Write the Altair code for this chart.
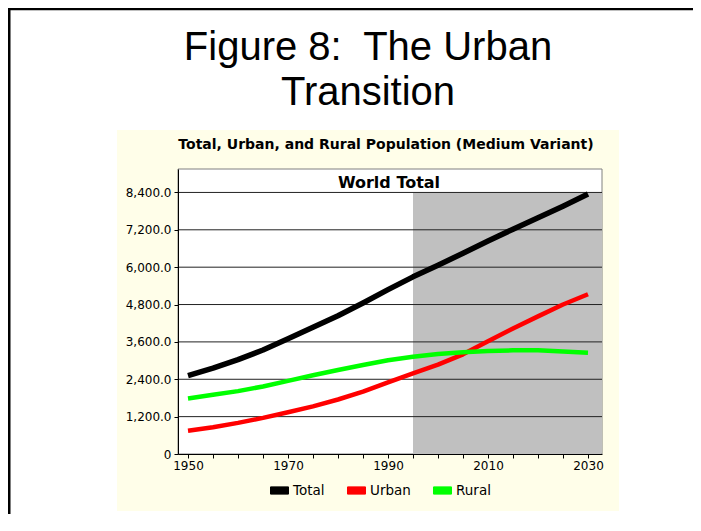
import altair as alt
import pandas as pd

# ---- data ----
years = [1950, 1955, 1960, 1965, 1970, 1975, 1980, 1985, 1990,
         1995, 2000, 2005, 2010, 2015, 2020, 2025, 2030]
total = [2520, 2760, 3030, 3340, 3700, 4070, 4440, 4850, 5280,
         5690, 6060, 6450, 6840, 7220, 7590, 7960, 8350]
urban = [750, 860, 1000, 1160, 1340, 1530, 1750, 2000, 2300,
         2590, 2870, 3200, 3620, 4030, 4420, 4800, 5130]
rural = [1780, 1900, 2020, 2170, 2350, 2530, 2700, 2860, 3010,
         3120, 3210, 3270, 3310, 3330, 3330, 3290, 3250]

series_names = ["Total", "Urban", "Rural"]
series_colors = ["#000000", "#FF0000", "#00FF00"]

ytick_values = [0, 1200, 2400, 3600, 4800, 6000, 7200, 8400]
grid_values = [1200, 2400, 3600, 4800, 6000, 7200, 8400]
xtick_values = list(range(1950, 2031, 5))
projection_start = [1995]
projection_end = [2032.6]

title_line1 = "Figure 8:\u00a0 The Urban"
title_line2 = "Transition"
subtitle = "Total, Urban, and Rural Population (Medium Variant)"
panel_title = "World Total"

# ---- tables ----
rows = []
for name, vals in zip(series_names, [total, urban, rural]):
    for y, v in zip(years, vals):
        rows.append({"year": y, "value": v, "series": name})
df = pd.DataFrame(rows)
band = pd.DataFrame({"start": projection_start, "end": projection_end,
                     "low": [0], "high": [8400]})
grid_df = pd.DataFrame({"v": grid_values})
one = pd.DataFrame({"d": [0]})

W, H = 424, 285
FONT = "DejaVu Sans"

xscale = alt.Scale(domain=[1948, 2032.8], nice=False, zero=False)
yscale = alt.Scale(domain=[0, 9153], nice=False, zero=True)
cscale = alt.Scale(domain=series_names, range=series_colors)

xaxis = alt.Axis(values=xtick_values, format="d",
                 labelExpr="(datum.value - 1950) % 20 == 0 ? datum.label : ''",
                 labelFont=FONT, labelFontSize=12, labelColor="black",
                 tickColor="black", tickSize=4, labelPadding=2,
                 domainColor="black", grid=False, title=None, zindex=1,
                 labelOverlap=False, labelFlush=False)
yaxis = alt.Axis(values=ytick_values,
                 labelExpr="datum.value == 0 ? '0' : format(datum.value, ',.1f')",
                 labelFont=FONT, labelFontSize=12, labelColor="black",
                 tickColor="black", tickSize=4, labelPadding=3,
                 domainColor="black", grid=False, title=None, zindex=1,
                 labelOverlap=False)

X = lambda f: alt.X(f, type="quantitative", scale=xscale, axis=xaxis)
Y = lambda f: alt.Y(f, type="quantitative", scale=yscale, axis=yaxis)

# decorations
border_v = alt.Chart(one).mark_rule(color="black", strokeWidth=3).encode(
    x=alt.value(-169), x2=alt.value(-169), y=alt.value(-165), y2=alt.value(400))
border_h = alt.Chart(one).mark_rule(color="black", strokeWidth=2.5).encode(
    x=alt.value(-171), x2=alt.value(530), y=alt.value(-160), y2=alt.value(-160))
cream = alt.Chart(one).mark_rect(color="#FFFEE9").encode(
    x=alt.value(-61), x2=alt.value(441), y=alt.value(-39), y2=alt.value(342))
frame = alt.Chart(one).mark_rect(fill="white", stroke="#808080", strokeWidth=1).encode(
    x=alt.value(0), x2=alt.value(W), y=alt.value(0), y2=alt.value(H))

gray = alt.Chart(band).mark_rect(color="#C0C0C0").encode(
    x=X("start"), x2="end", y=Y("low"), y2="high")

grid = alt.Chart(grid_df).mark_rule(color="#222222", strokeWidth=1).encode(
    y=Y("v"), x=alt.value(0), x2=alt.value(W))

thin_lines = alt.Chart(df).transform_filter(
    "datum.series != 'Total'"
).mark_line(strokeWidth=4.5, strokeCap="butt", strokeJoin="round").encode(
    x=X("year"), y=Y("value"),
    stroke=alt.Stroke("series:N", scale=cscale, legend=None),
    order=alt.Order("year:Q"),
)
total_line = alt.Chart(df).transform_filter(
    "datum.series == 'Total'"
).mark_line(strokeWidth=5.5, strokeCap="butt", strokeJoin="round").encode(
    x=X("year"), y=Y("value"),
    stroke=alt.Stroke("series:N", scale=cscale, legend=None),
)

legend_layer = alt.Chart(df).mark_point(filled=True, opacity=0, size=324,
                                        shape="M-1,-0.4L1,-0.4L1,0.4L-1,0.4Z").encode(
    x=X("year"), y=Y("value"),
    fill=alt.Fill("series:N", scale=cscale,
                  legend=alt.Legend(orient="none", legendX=92, legendY=312,
                                    direction="horizontal", title=None,
                                    symbolType="M-1,-0.4L1,-0.4L1,0.4L-1,0.4Z", symbolSize=324,
                                    symbolStrokeColor="black", symbolStrokeWidth=1,
                                    symbolOpacity=1, labelFont=FONT, labelFontSize=13.5,
                                    labelColor="black", labelOffset=4, columnPadding=20,
                                    padding=0)),
)

t1 = alt.Chart(one).mark_text(text=title_line1, font="Liberation Sans", fontSize=40,
                              align="center", baseline="alphabetic", color="black").encode(
    x=alt.value(190), y=alt.value(-109))
t2 = alt.Chart(one).mark_text(text=title_line2, font="Liberation Sans", fontSize=40,
                              align="center", baseline="alphabetic", color="black").encode(
    x=alt.value(190), y=alt.value(-64))
st = alt.Chart(one).mark_text(text=subtitle, font=FONT, fontSize=14, fontWeight="bold",
                              align="center", baseline="alphabetic", color="black").encode(
    x=alt.value(208), y=alt.value(-20))
pt = alt.Chart(one).mark_text(text=panel_title, font=FONT, fontSize=16, fontWeight="bold",
                              align="center", baseline="alphabetic", color="black").encode(
    x=alt.value(211), y=alt.value(19))

chart = alt.layer(
    cream, border_v, border_h, frame, gray, grid, legend_layer,
    thin_lines, total_line, t1, t2, st, pt
).properties(
    width=W, height=H,
    autosize=alt.AutoSizeParams(type="none"),
    padding={"left": 170, "top": 161, "right": 91, "bottom": 60},
    background="white",
).configure_view(strokeWidth=0)

chart.save("out.html", embed_options={"renderer": "svg", "actions": False})
